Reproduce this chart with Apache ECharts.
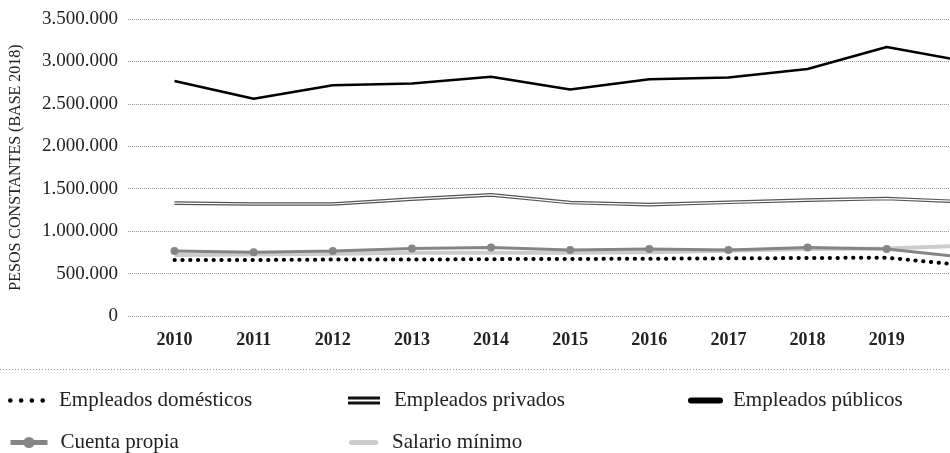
<!DOCTYPE html>
<html>
<head>
<meta charset="utf-8">
<script src="https://cdn.jsdelivr.net/npm/echarts@6/dist/echarts.min.js"></script>
<style>
html,body{margin:0;padding:0;background:#fff;}
#chart{width:950px;height:453px;}
</style>
</head>
<body>
<div id="chart"></div>
<script>
const years = [2010, 2011, 2012, 2013, 2014, 2015, 2016, 2017, 2018, 2019, 2020];
const tickYears = [2010, 2011, 2012, 2013, 2014, 2015, 2016, 2017, 2018, 2019];
const domesticos = [660000, 660000, 665000, 665000, 670000, 672000, 675000, 680000, 683000, 688000, 595000];
const privados = [1330000, 1320000, 1320000, 1377000, 1427000, 1337000, 1313000, 1340000, 1365000, 1384000, 1345000];
const publicos = [2770000, 2560000, 2720000, 2740000, 2820000, 2670000, 2790000, 2810000, 2910000, 3170000, 3000000];
const cuentaPropia = [767000, 751000, 767000, 794000, 806000, 779000, 790000, 779000, 806000, 790000, 690000];
const salarioMinimo = [720000, 725000, 735000, 745000, 745000, 745000, 750000, 770000, 790000, 795000, 830000];

const FONT = '"Liberation Serif", "DejaVu Serif", serif';
const pair = arr => years.map((y, i) => [y, arr[i]]);
const fmt = v => String(Math.round(v)).replace(/\B(?=(\d{3})+(?!\d))/g, '.');

const chart = echarts.init(document.getElementById('chart'));
function legend(item, left, top, w, h, pad, extra) {
  return Object.assign({
    data: [item], left: left, top: top, itemWidth: w, itemHeight: h,
    padding: 0, selectedMode: false,
    textStyle: {fontFamily: FONT, fontSize: 21, color: '#222', padding: [0, 0, 0, pad]}
  }, extra || {});
}
const dotsIcon = 'path://M0.2,2.5a2.3,2.3 0 1,0 4.6,0a2.3,2.3 0 1,0 -4.6,0Z M10.9,2.5a2.3,2.3 0 1,0 4.6,0a2.3,2.3 0 1,0 -4.6,0Z M21.5,2.5a2.3,2.3 0 1,0 4.6,0a2.3,2.3 0 1,0 -4.6,0Z M32.2,2.5a2.3,2.3 0 1,0 4.6,0a2.3,2.3 0 1,0 -4.6,0Z';
const doubleIcon = 'path://M0,0H32V3H0Z M0,5H32V8H0Z';
const barIcon = 'path://M3,0H32A3,3 0 0,1 32,6H3A3,3 0 0,1 3,0Z';

chart.setOption({
  animation: false,
  backgroundColor: '#fff',
  textStyle: {fontFamily: FONT},
  grid: {left: 128, right: 0, top: 19, bottom: 137},
  xAxis: {
    type: 'value', min: 2009.412, max: 2019.8,
    axisLine: {show: false}, axisTick: {show: false}, splitLine: {show: false},
    axisLabel: {
      customValues: tickYears,
      formatter: v => String(v), margin: 15,
      fontFamily: FONT, fontSize: 18, fontWeight: 'bold', color: '#222'
    }
  },
  yAxis: {
    type: 'value', min: 0, max: 3500000, interval: 500000,
    name: 'PESOS CONSTANTES (BASE 2018)', nameLocation: 'middle', nameGap: 104,
    nameTextStyle: {fontFamily: FONT, fontSize: 16, color: '#222'},
    axisLine: {show: false}, axisTick: {show: false},
    axisLabel: {formatter: fmt, margin: 10, fontFamily: FONT, fontSize: 19, color: '#222'},
    splitLine: {lineStyle: {type: 'dotted', color: '#999', width: 1}}
  },
  graphic: [{
    type: 'line', shape: {x1: 0, y1: 369.5, x2: 950, y2: 369.5},
    style: {stroke: '#999', lineWidth: 1, lineDash: [1, 2]}
  }],
  legend: [
    legend({name: 'Empleados domésticos', icon: dotsIcon, itemStyle: {color: '#000'}}, 8, 390, 37, 5, 9),
    legend({name: 'Empleados privados', icon: doubleIcon, itemStyle: {color: '#111'}}, 348, 390, 32, 8, 9),
    legend({name: 'Empleados públicos', icon: barIcon, itemStyle: {color: '#000'}}, 688, 390, 35, 6, 5),
    legend({name: 'Cuenta propia'}, 8, 432, 37, 14, 8, {lineStyle: {width: 5}}),
    legend({name: 'Salario mínimo', icon: barIcon, itemStyle: {color: '#cccccc'}}, 349, 432, 33, 5, 7)
  ],
  series: [
    {name: 'Salario mínimo', type: 'line', data: pair(salarioMinimo), showSymbol: false, symbol: 'none',
     lineStyle: {color: '#cccccc', width: 4}, itemStyle: {color: '#cccccc'}, z: 2},
    {name: 'Empleados domésticos', type: 'line', data: pair(domesticos), showSymbol: false, symbol: 'none',
     lineStyle: {color: '#000', width: 4, type: [0.3, 7.5], cap: 'round'}, itemStyle: {color: '#000'}, z: 3},
    {name: 'Cuenta propia', type: 'line', data: pair(cuentaPropia), symbol: 'circle', symbolSize: 8, showSymbol: true,
     lineStyle: {color: '#858585', width: 3}, itemStyle: {color: '#858585'}, z: 4},
    {name: 'Empleados privados', type: 'line', data: pair(privados), showSymbol: false, symbol: 'none',
     lineStyle: {color: '#555', width: 3.6}, itemStyle: {color: '#555'}, z: 5},
    {name: 'privados-inner', type: 'line', data: pair(privados), showSymbol: false, symbol: 'none', silent: true,
     lineStyle: {color: '#fff', width: 1.2}, itemStyle: {color: '#fff'}, z: 6},
    {name: 'Empleados públicos', type: 'line', data: pair(publicos), showSymbol: false, symbol: 'none',
     lineStyle: {color: '#000', width: 2.6}, itemStyle: {color: '#000'}, z: 7}
  ]
});
</script>
</body>
</html>
